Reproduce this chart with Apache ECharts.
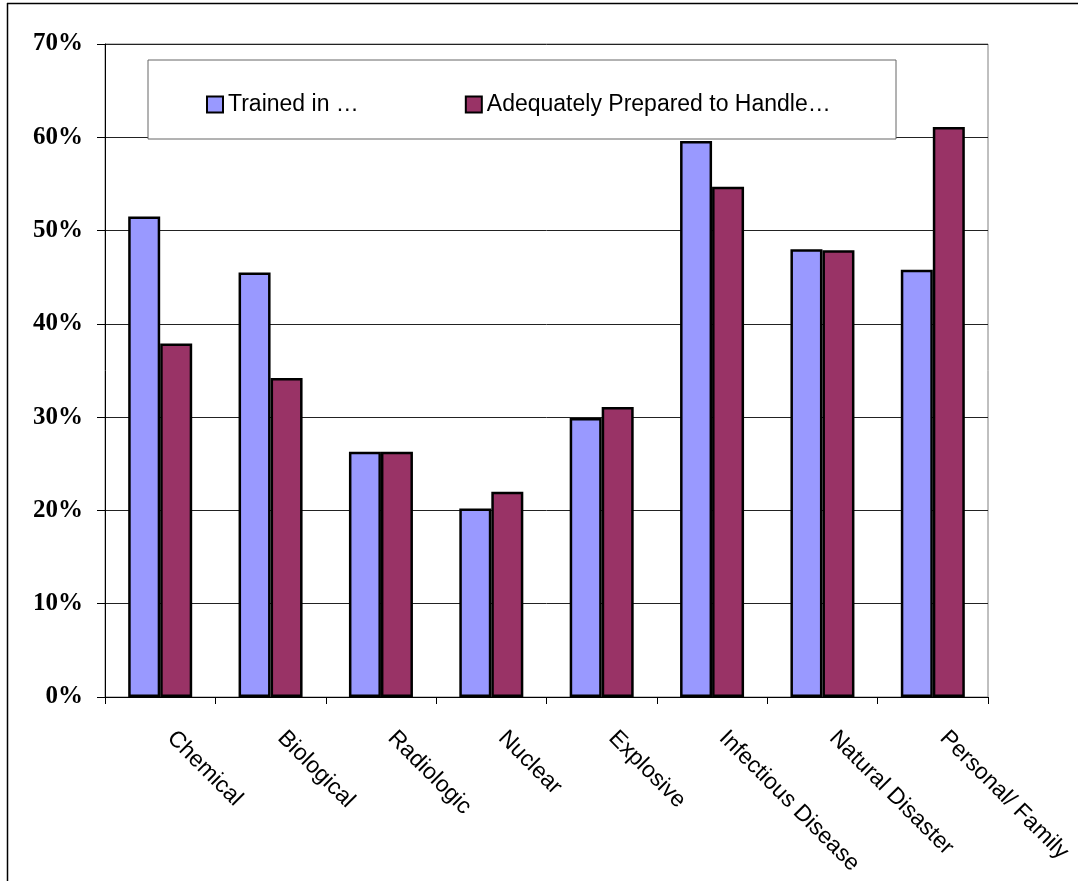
<!DOCTYPE html>
<html>
<head>
<meta charset="utf-8">
<script src="https://cdn.jsdelivr.net/npm/echarts@6/dist/echarts.min.js"></script>
<style>
    html, body { margin: 0; padding: 0; background: #fff; }
    #chart { width: 1078px; height: 881px; }
</style>
</head>
<body>
<div id="chart"></div>
<script>
// categories and values (percent)
var categories = ['Chemical', 'Biological', 'Radiologic', 'Nuclear', 'Explosive',
    'Infectious Disease', 'Natural Disaster', 'Personal/ Family'];
var trained = [51.5, 45.5, 26.3, 20.2, 29.9, 59.6, 48.0, 45.8];
var prepared = [37.9, 34.2, 26.3, 22.0, 31.1, 54.7, 47.9, 61.1];
var seriesNames = ['Trained in \u2026', 'Adequately Prepared to Handle\u2026'];

var chart = echarts.init(document.getElementById('chart'));

var option = {
    animation: false,
    backgroundColor: '#fff',
    grid: {
        left: 105,
        right: 90,
        top: 44,
        bottom: 184,
        show: true,
        borderColor: '#808080',
        borderWidth: 1,
        backgroundColor: 'transparent'
    },
    // legend box drawn as a plain rect, legend items sit inside it
    graphic: [
        {
            type: 'rect',
            shape: { x: 148, y: 60, width: 748, height: 79 },
            style: { fill: '#fff', stroke: '#666', lineWidth: 1 },
            z: 5
        },
        {
            type: 'line',
            shape: { x1: 7, y1: 3.5, x2: 1078, y2: 3.5 },
            style: { stroke: '#000', lineWidth: 1.5 }
        },
        {
            type: 'line',
            shape: { x1: 7.5, y1: 3, x2: 7.5, y2: 881 },
            style: { stroke: '#000', lineWidth: 1.5 }
        }
    ],
    legend: {
        data: seriesNames,
        left: 201,
        top: 88,
        z: 10,
        itemWidth: 16,
        itemHeight: 16,
        itemGap: 106,
        icon: 'rect',
        itemStyle: { borderColor: '#000', borderWidth: 2 },
        textStyle: {
            fontFamily: 'Liberation Sans, Arial, sans-serif',
            fontSize: 23,
            color: '#000'
        }
    },
    xAxis: {
        type: 'category',
        data: categories,
        axisLine: { lineStyle: { color: '#000', width: 1 } },
        axisTick: { show: true, length: 7, lineStyle: { color: '#000' } },
        axisLabel: {
            interval: 0,
            rotate: -45,
            margin: 27,
            padding: [0, 0, 0, 15],
            fontFamily: 'Liberation Sans, Arial, sans-serif',
            fontSize: 23,
            color: '#000'
        },
        splitLine: { show: false }
    },
    yAxis: {
        type: 'value',
        min: 0,
        max: 70,
        interval: 10,
        axisLine: { show: true, lineStyle: { color: '#000', width: 1 } },
        axisTick: { show: true, length: 8, lineStyle: { color: '#000' } },
        axisLabel: {
            formatter: '{value}%',
            margin: 22,
            fontFamily: 'Liberation Serif, Times New Roman, serif',
            fontWeight: 'bold',
            fontSize: 25,
            color: '#000'
        },
        splitLine: { lineStyle: { color: '#222', width: 1 } }
    },
    series: [
        {
            name: seriesNames[0],
            type: 'bar',
            data: trained,
            barWidth: 32,
            barGap: '0%',
            itemStyle: { color: '#9999FF', borderColor: '#000', borderWidth: 2.5 }
        },
        {
            name: seriesNames[1],
            type: 'bar',
            data: prepared,
            barWidth: 32,
            barGap: '0%',
            itemStyle: { color: '#993366', borderColor: '#000', borderWidth: 2.5 }
        }
    ]
};

chart.setOption(option);
</script>
</body>
</html>
